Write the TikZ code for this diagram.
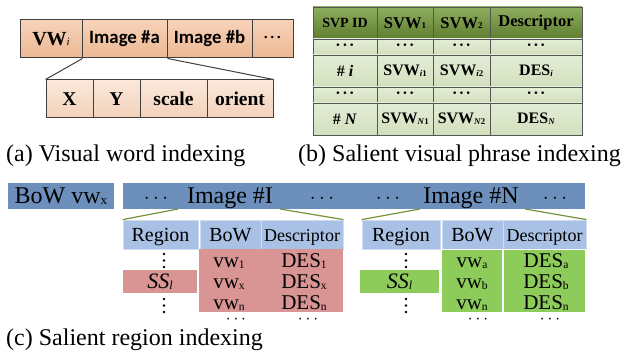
\documentclass[tikz,border=0pt]{standalone}
\usepackage{graphicx}
\usepackage{fontspec}
\setmainfont{Liberation Serif}
\newfontfamily\calfont{Carlito}
\newcommand\fsz[1]{\fontsize{#1}{#1}\selectfont}
\newcommand\sbs[1]{\raisebox{-0.6pt}{\scalebox{0.55}{#1}}}
\newcommand\bdots{\textbf{\char"B7\hspace{1.5pt}\char"B7\hspace{1.5pt}\char"B7}}
\definecolor{aborder}{HTML}{3F3F3F}
\definecolor{atopA}{HTML}{F7D2B9}
\definecolor{atopB}{HTML}{ECB893}
\definecolor{abotA}{HTML}{FBE8DB}
\definecolor{abotB}{HTML}{F3D1BA}
\definecolor{thA}{HTML}{8FAE5E}
\definecolor{thB}{HTML}{5F7D2F}
\definecolor{tbA}{HTML}{E4EDD7}
\definecolor{tbB}{HTML}{D2DFBC}
\definecolor{tline}{HTML}{555555}
\definecolor{barblue}{HTML}{6C8FBB}
\definecolor{subblue}{HTML}{A9C1E5}
\definecolor{redf}{HTML}{D99594}
\definecolor{greenf}{HTML}{8DCB5A}
\definecolor{gline}{HTML}{76923C}
\begin{document}
\begin{tikzpicture}[x=1pt,y=-1pt,
  acelltop/.style={draw=aborder, line width=1pt, top color=atopA, bottom color=atopB, minimum height=38pt, inner sep=0pt},
  acellbot/.style={draw=aborder, line width=1pt, top color=abotA, bottom color=abotB, minimum height=38pt, inner sep=0pt},
  aline/.style={draw=aborder, line width=1pt},
  thead/.style={draw=tline, line width=0.9pt, top color=thA, bottom color=thB, inner sep=0pt, font=\fsz{16.5}\bfseries},
  tbody/.style={draw=tline, line width=0.9pt, top color=tbA, bottom color=tbB, inner sep=0pt, font=\fsz{16}\bfseries},
  bluebar/.style={fill=barblue, inner sep=0pt, minimum height=26pt},
  subhead/.style={fill=subblue, draw=white!45!subblue, line width=0.8pt, inner sep=0pt, minimum height=29pt},
  txt/.style={inner sep=0pt, anchor=base},
  redcol/.style={fill=redf, inner sep=0pt, minimum height=63pt},
  greencol/.style={fill=greenf, draw=white, line width=0.8pt, inner sep=0pt, minimum height=63pt},
  gl/.style={draw=gline, line width=1.2pt},
  caption/.style={inner sep=0pt, anchor=base west, font=\fsz{24}}
]
\useasboundingbox (0,0) rectangle (624,352);

% ---------- (a)
\node[acelltop, minimum width=62pt] (vw) at (51,39) {\fsz{20}\textbf{VW}\sbs{\textit{i}}};
\node[acelltop, minimum width=85pt] (ima) at (124.5,39) {\calfont\fsz{18.8}\bfseries Image \#a};
\node[acelltop, minimum width=85pt] (imb) at (209.5,39) {\calfont\fsz{18.8}\bfseries Image \#b};
\node[acelltop, minimum width=41pt] (adots) at (272.5,39) {\fsz{15}\bdots};
\node[acellbot, minimum width=47pt] (ax) at (69.5,99) {\fsz{19.5}\textbf{X}};
\node[acellbot, minimum width=47pt] (ay) at (116.5,99) {\fsz{19.5}\textbf{Y}};
\node[acellbot, minimum width=67pt] (ascale) at (173.5,99) {\fsz{19.5}\textbf{scale}};
\node[acellbot, minimum width=66pt] (aorient) at (240,99) {\fsz{19.5}\textbf{orient}};
\draw[aline] (vw.south east) -- (ax.north west);
\draw[aline] (ima.south east) -- (aorient.north east);

% ---------- (b)
\node[thead, minimum width=64pt, minimum height=32pt] (h1) at (345,23) {\fsz{14}SVP ID};
\node[thead, minimum width=56pt, minimum height=32pt] (h2) at (405,23) {SVW\sbs{1}};
\node[thead, minimum width=57pt, minimum height=32pt] (h3) at (461.5,23) {SVW\sbs{2}};
\node[thead, minimum width=92pt, minimum height=32pt] (h4) at (536,23) {Descriptor};
\node[tbody, minimum width=64pt, minimum height=16pt] (r1a) at (345,47) {\bdots};
\node[tbody, minimum width=56pt, minimum height=16pt] (r1b) at (405,47) {\bdots};
\node[tbody, minimum width=57pt, minimum height=16pt] (r1c) at (461.5,47) {\bdots};
\node[tbody, minimum width=92pt, minimum height=16pt] (r1d) at (536,47) {\bdots};
\node[tbody, minimum width=64pt, minimum height=32pt] (r2a) at (345,71) {\# \textit{i}};
\node[tbody, minimum width=56pt, minimum height=32pt] (r2b) at (405,71) {SVW\sbs{\textit{i}1}};
\node[tbody, minimum width=57pt, minimum height=32pt] (r2c) at (461.5,71) {SVW\sbs{\textit{i}2}};
\node[tbody, minimum width=92pt, minimum height=32pt] (r2d) at (536,71) {DES\sbs{\textit{i}}};
\node[tbody, minimum width=64pt, minimum height=16pt] (r3a) at (345,95) {\bdots};
\node[tbody, minimum width=56pt, minimum height=16pt] (r3b) at (405,95) {\bdots};
\node[tbody, minimum width=57pt, minimum height=16pt] (r3c) at (461.5,95) {\bdots};
\node[tbody, minimum width=92pt, minimum height=16pt] (r3d) at (536,95) {\bdots};
\node[tbody, minimum width=64pt, minimum height=32pt] (r4a) at (345,119) {\# \textit{N}};
\node[tbody, minimum width=56pt, minimum height=32pt] (r4b) at (405,119) {SVW\sbs{\textit{N}1}};
\node[tbody, minimum width=57pt, minimum height=32pt] (r4c) at (461.5,119) {SVW\sbs{\textit{N}2}};
\node[tbody, minimum width=92pt, minimum height=32pt] (r4d) at (536,119) {DES\sbs{\textit{N}}};

% ---------- captions
\node[caption] (capa) at (6,162) {(a) Visual word indexing};
\node[caption] (capb) at (298,162) {(b) Salient visual phrase indexing};
\node[caption] (capc) at (6,346) {(c) Salient region indexing};

% ---------- (c)
\node[bluebar, minimum width=106pt] (bow) at (61,196) {};
\node[txt] (bowt) at (61,203.5) {\fsz{24}BoW vw\sbs{x}};
\node[bluebar, minimum width=462pt] (bar) at (354,196) {};
\node[txt] (bd1) at (156,203.5) {\fsz{22}$\cdots$};
\node[txt] (bimI) at (230,203.5) {\fsz{24}Image \#I};
\node[txt] (bd2) at (322,203.5) {\fsz{22}$\cdots$};
\node[txt] (bd3) at (388,203.5) {\fsz{22}$\cdots$};
\node[txt] (bimN) at (471,203.5) {\fsz{24}Image \#N};
\node[txt] (bd4) at (555,203.5) {\fsz{22}$\cdots$};

\node[subhead, minimum width=75pt] (lreg) at (160.5,234.5) {};
\node[subhead, minimum width=61pt] (lbow) at (230.5,234.5) {};
\node[subhead, minimum width=82pt] (ldes) at (302,234.5) {};
\node[subhead, minimum width=78pt] (rreg) at (401,234.5) {};
\node[subhead, minimum width=61pt] (rbow) at (472.5,234.5) {};
\node[subhead, minimum width=83pt] (rdes) at (544.5,234.5) {};
\node[txt] (lregt) at (160.5,241.5) {\fsz{20}Region};
\node[txt] (lbowt) at (230.5,241.5) {\fsz{20}BoW};
\node[txt] (ldest) at (302,241.5) {\fsz{18}Descriptor};
\node[txt] (rregt) at (401,241.5) {\fsz{20}Region};
\node[txt] (rbowt) at (472.5,241.5) {\fsz{20}BoW};
\node[txt] (rdest) at (544.5,241.5) {\fsz{18}Descriptor};

\coordinate (s1) at (178,209);
\coordinate (s2) at (280,209);
\coordinate (s3) at (420,209);
\coordinate (s4) at (525,209);
\draw[gl] (s1) -- (lreg.north west);
\draw[gl] (s2) -- (ldes.north east);
\draw[gl] (s3) -- (rreg.north west);
\draw[gl] (s4) -- (rdes.north east);

\node[redcol, minimum width=62pt] (lbowc) at (230,280.5) {};
\node[redcol, minimum width=82pt] (ldesc) at (302,280.5) {};
\node[greencol, minimum width=61pt] (rbowc) at (471.5,280.5) {};
\node[greencol, minimum width=82pt] (rdesc) at (544,280.5) {};
\node[fill=redf, inner sep=0pt, minimum width=74pt, minimum height=23pt] (lss) at (160,281.5) {};
\node[fill=greenf, inner sep=0pt, minimum width=79pt, minimum height=23pt] (rss) at (399.5,281.5) {};
\node[txt] (lsst) at (160,289) {\fsz{22}\textit{SS}\sbs{\textit{l}}};
\node[txt] (rsst) at (399.5,289) {\fsz{22}\textit{SS}\sbs{\textit{l}}};

\begin{scope}[every node/.style={txt, font=\fsz{21}}]
\node (lv1) at (229,268) {vw\sbs{1}};
\node (lvx) at (229,289) {vw\sbs{x}};
\node (lvn) at (229,309.5) {vw\sbs{n}};
\node (ld1) at (304,268) {DES\sbs{1}};
\node (ldx) at (304,289) {DES\sbs{x}};
\node (ldn) at (304,309.5) {DES\sbs{n}};
\node (rva) at (472,268) {vw\sbs{a}};
\node (rvb) at (472,289) {vw\sbs{b}};
\node (rvn) at (472,309.5) {vw\sbs{n}};
\node (rda) at (546,268) {DES\sbs{a}};
\node (rdb) at (546,289) {DES\sbs{b}};
\node (rdn) at (546,309.5) {DES\sbs{n}};
\end{scope}
\begin{scope}[every node/.style={inner sep=0pt, font=\fsz{18}}]
\node (ldots1) at (236,320) {$\cdots$};
\node (ldots2) at (308,320) {$\cdots$};
\node (rdots1) at (478,320) {$\cdots$};
\node (rdots2) at (550,320) {$\cdots$};
\end{scope}
\foreach \xx in {164,406}{
  \foreach \yy in {254,260.5,267,299,305.5,312}{
    \fill (\xx,\yy) circle (1.3pt);
  }
}
\end{tikzpicture}
\end{document}
